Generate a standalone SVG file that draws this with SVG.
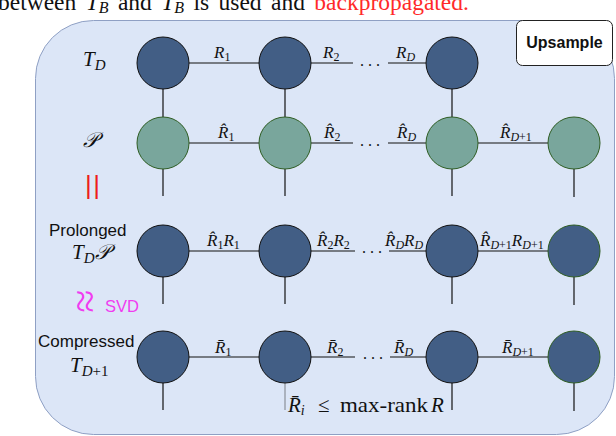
<svg xmlns="http://www.w3.org/2000/svg" width="616" height="436" viewBox="0 0 616 436">
<style>
.bg{fill:#dce6f7;stroke:#8fa0c4;stroke-width:1}
.dk{fill:#425e85;stroke:#111;stroke-width:1}
.dkg{fill:#425e85;stroke:#2f5d23;stroke-width:1}
.gr{fill:#79a69c;stroke:#2f5d23;stroke-width:1}
.ln{stroke:#111;stroke-width:1.2;fill:none}
.e{font-family:"Liberation Serif",serif;font-style:italic;font-size:17px;fill:#111}
.sb{font-size:12px;font-style:normal}
.si{font-size:12px;font-style:italic}
.big{font-family:"Liberation Serif",serif;font-style:italic;font-size:21px;fill:#111}
.bs{font-size:15px;font-style:italic}
.bn{font-size:15px;font-style:normal}
.sans{font-family:"Liberation Sans",Arial,sans-serif;font-size:17px;fill:#111}
.dots{font-family:"Liberation Serif",serif;font-size:16px;letter-spacing:4px;fill:#111}
.top{font-family:"Liberation Serif",serif;font-size:23.5px;word-spacing:3.5px;fill:#111}
</style>
<text class="top" x="-2" y="10">between <tspan font-style="italic">T</tspan><tspan font-size="16" font-style="italic" dy="3">B</tspan><tspan dy="-3"> and </tspan><tspan font-style="italic">T̂</tspan><tspan font-size="16" font-style="italic" dy="3">B</tspan><tspan dy="-3"> is used and </tspan><tspan fill="#ff2a2a">backpropagated.</tspan></text>
<rect class="bg" x="35.5" y="20.5" width="579" height="414" rx="58" ry="58"/>
<g id="upsample">
<rect x="516.5" y="20.5" width="96" height="45" rx="6" fill="#fff" stroke="#222" stroke-width="1"/>
<text x="564.5" y="48" text-anchor="middle" font-family="Liberation Sans, Arial, sans-serif" font-weight="bold" font-size="16" fill="#111">Upsample</text>
</g>
<g id="row-labels">
<text class="big" x="83" y="66">T<tspan class="bs" dy="4">D</tspan></text>
<text class="big" x="83" y="147">𝒫</text>
<text x="85" y="193.5" font-family="Liberation Sans, Arial, sans-serif" font-size="26" letter-spacing="1.5" fill="#ee1c1c">||</text>
<text class="sans" x="49" y="236">Prolonged</text>
<text class="big" x="72" y="259">T<tspan class="bs" dy="4">D</tspan><tspan dy="-4">𝒫</tspan></text>
<text x="85" y="301.5" transform="rotate(90 85 301.5)" text-anchor="middle" dominant-baseline="central" font-family="Liberation Serif, serif" font-size="42" fill="#f03cf0">≈</text>
<text x="105" y="312" font-family="Liberation Sans, Arial, sans-serif" font-size="16.5" fill="#f03cf0">SVD</text>
<text class="sans" x="38" y="347">Compressed</text>
<text class="big" x="70" y="372">T<tspan class="bs" dy="4">D</tspan><tspan class="bn">+1</tspan></text>
</g>
<g id="connectors" class="ln">
<line x1="163" y1="89" x2="163" y2="117"/>
<line x1="285" y1="89" x2="285" y2="117"/>
<line x1="452" y1="89" x2="452" y2="117"/>
<line x1="189" y1="63" x2="259" y2="63"/>
<line x1="311" y1="63" x2="353" y2="63"/>
<line x1="388" y1="63" x2="426" y2="63"/>
<line x1="189" y1="143" x2="259" y2="143"/>
<line x1="311" y1="143" x2="353" y2="143"/>
<line x1="388" y1="143" x2="426" y2="143"/>
<line x1="478" y1="143" x2="548" y2="143"/>
<line x1="163" y1="169" x2="163" y2="196"/>
<line x1="285" y1="169" x2="285" y2="196"/>
<line x1="452" y1="169" x2="452" y2="196"/>
<line x1="574" y1="169" x2="574" y2="197"/>
<line x1="189" y1="251" x2="259" y2="251"/>
<line x1="311" y1="251" x2="355" y2="251"/>
<line x1="389" y1="251" x2="426" y2="251"/>
<line x1="478" y1="251" x2="548" y2="251"/>
<line x1="163" y1="277" x2="163" y2="304"/>
<line x1="285" y1="277" x2="285" y2="304"/>
<line x1="452" y1="277" x2="452" y2="304"/>
<line x1="574" y1="277" x2="574" y2="305"/>
<line x1="189" y1="357" x2="259" y2="357"/>
<line x1="311" y1="357" x2="355" y2="357"/>
<line x1="390" y1="357" x2="426" y2="357"/>
<line x1="478" y1="357" x2="548" y2="357"/>
<line x1="163" y1="383" x2="163" y2="410"/>
<line x1="285" y1="383" x2="285" y2="410" stroke="#8a8f98"/>
<line x1="452" y1="383" x2="452" y2="410"/>
<line x1="574" y1="383" x2="574" y2="411"/>
</g>
<g id="edge-labels">
<text class="e" x="214" y="58">R<tspan class="sb" dy="3">1</tspan></text>
<text class="e" x="323" y="58">R<tspan class="sb" dy="3">2</tspan></text>
<text class="dots" x="360" y="66">...</text>
<text class="e" x="396" y="58">R<tspan class="si" dy="3">D</tspan></text>
<text class="e" x="218" y="138">R̂<tspan class="sb" dy="3">1</tspan></text>
<text class="e" x="324" y="138">R̂<tspan class="sb" dy="3">2</tspan></text>
<text class="dots" x="360" y="146">...</text>
<text class="e" x="397" y="138">R̂<tspan class="si" dy="3">D</tspan></text>
<text class="e" x="500" y="138">R̂<tspan class="si" dy="3">D</tspan><tspan class="sb">+1</tspan></text>
<text class="e" x="207" y="246">R̂<tspan class="sb" dy="3">1</tspan><tspan dy="-3">R</tspan><tspan class="sb" dy="3">1</tspan></text>
<text class="e" x="317" y="246">R̂<tspan class="sb" dy="3">2</tspan><tspan dy="-3">R</tspan><tspan class="sb" dy="3">2</tspan></text>
<text class="dots" x="362" y="253">...</text>
<text class="e" x="385" y="246">R̂<tspan class="si" dy="3">D</tspan><tspan dy="-3">R</tspan><tspan class="si" dy="3">D</tspan></text>
<text class="e" x="480" y="246">R̂<tspan class="si" dy="3">D</tspan><tspan class="sb">+1</tspan><tspan dy="-3">R</tspan><tspan class="si" dy="3">D</tspan><tspan class="sb">+1</tspan></text>
<text class="e" x="215" y="353">R̄<tspan class="sb" dy="3">1</tspan></text>
<text class="e" x="327" y="353">R̄<tspan class="sb" dy="3">2</tspan></text>
<text class="dots" x="363" y="359">...</text>
<text class="e" x="394" y="353">R̄<tspan class="si" dy="3">D</tspan></text>
<text class="e" x="502" y="353">R̄<tspan class="si" dy="3">D</tspan><tspan class="sb">+1</tspan></text>
<text y="412" font-family="Liberation Serif, serif" font-size="21" fill="#111"><tspan x="288" font-style="italic">R̄</tspan><tspan font-size="14" font-style="italic" dy="3">i</tspan><tspan x="318" dy="-3">≤</tspan><tspan x="340" textLength="88" lengthAdjust="spacingAndGlyphs">max-rank</tspan><tspan x="431" font-style="italic">R</tspan></text>
</g>
<g id="n-TD-1"><circle class="dk" cx="163" cy="63" r="26"/></g>
<g id="n-TD-2"><circle class="dk" cx="285" cy="63" r="26"/></g>
<g id="n-TD-D"><circle class="dk" cx="452" cy="63" r="26"/></g>
<g id="n-P-1"><circle class="gr" cx="163" cy="143" r="26"/></g>
<g id="n-P-2"><circle class="gr" cx="285" cy="143" r="26"/></g>
<g id="n-P-D"><circle class="gr" cx="452" cy="143" r="26"/></g>
<g id="n-P-D1"><circle class="gr" cx="574" cy="143" r="26"/></g>
<g id="n-TP-1"><circle class="dk" cx="163" cy="251" r="26"/></g>
<g id="n-TP-2"><circle class="dk" cx="285" cy="251" r="26"/></g>
<g id="n-TP-D"><circle class="dk" cx="452" cy="251" r="26"/></g>
<g id="n-TP-D1"><circle class="dkg" cx="574" cy="251" r="26"/></g>
<g id="n-C-1"><circle class="dk" cx="163" cy="357" r="26"/></g>
<g id="n-C-2"><circle class="dk" cx="285" cy="357" r="26"/></g>
<g id="n-C-D"><circle class="dk" cx="452" cy="357" r="26"/></g>
<g id="n-C-D1"><circle class="dkg" cx="574" cy="357" r="26"/></g>
</svg>
